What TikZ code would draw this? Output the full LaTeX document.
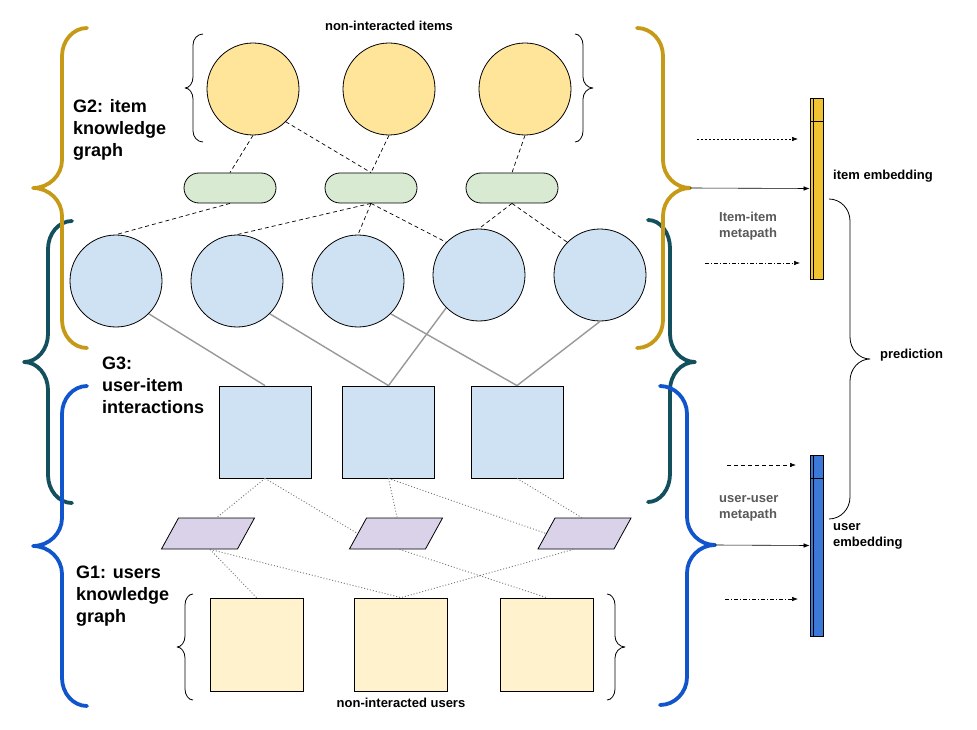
\documentclass[tikz,border=0pt]{standalone}
\usepackage{fontspec}
\setmainfont{Liberation Sans}
\usetikzlibrary{arrows.meta,calc}
\definecolor{circY}{HTML}{FFE599}
\definecolor{pillG}{HTML}{D9EAD3}
\definecolor{circB}{HTML}{CFE2F3}
\definecolor{paraP}{HTML}{D9D2E9}
\definecolor{sqY}{HTML}{FFF2CC}
\definecolor{goldB}{RGB}{198,154,22}
\definecolor{tealB}{HTML}{134F5C}
\definecolor{blueB}{HTML}{1155CC}
\definecolor{barY}{HTML}{F1C232}
\definecolor{barB}{HTML}{3C78D8}
\definecolor{grayT}{HTML}{595959}
\definecolor{grayL}{HTML}{999999}
\definecolor{grayD}{HTML}{777777}
% brace: #1 style, #2 x end, #3 x spine, #4 x tip, #5 y top, #6 y tip, #7 y bottom, #8 curl size
\newcommand{\mybrace}[8]{\draw[#1] (#2,#5) .. controls ({#2+0.55*(#3-#2)},#5) and (#3,{#5+0.45*#8}) .. (#3,{#5+#8}) -- (#3,{#6-#8}) .. controls (#3,{#6-0.45*#8}) and ({#4+0.55*(#3-#4)},#6) .. (#4,#6) .. controls ({#4+0.55*(#3-#4)},#6) and (#3,{#6+0.45*#8}) .. (#3,{#6+#8}) -- (#3,{#7-#8}) .. controls (#3,{#7-0.45*#8}) and ({#2+0.55*(#3-#2)},#7) .. (#2,#7);}
\tikzset{
  circle92/.style={circle, draw, line width=0.8pt, minimum size=92, inner sep=0},
  pill/.style={rectangle, rounded corners=15, draw, line width=0.8pt, fill=pillG, minimum width=92, minimum height=30, inner sep=0},
  sq/.style={rectangle, draw, line width=0.8pt, minimum size=92, inner sep=0},
  para/.style={rectangle, draw, line width=0.8pt, fill=paraP, minimum width=76, minimum height=31, inner sep=0, xslant=0.55},
  dsh/.style={dash pattern=on 4pt off 3pt, line width=0.7pt},
  gline/.style={grayL, line width=1.4pt},
  dline/.style={grayD, dash pattern=on 1pt off 2pt, line width=0.9pt},
  bigbrace/.style={line width=3.8pt, line join=round, line cap=round},
  thinbrace/.style={line width=0.8pt, line join=round},
  lab18/.style={font=\fontsize{18}{22}\selectfont\bfseries, align=left, inner sep=0},
  lab13/.style={font=\fontsize{13}{16}\selectfont\bfseries, align=left, inner sep=0},
  arr/.style={-{Latex[length=6pt,width=4.5pt]}, line width=0.6pt},
  bar/.style={rectangle, draw, line width=0.7pt, minimum width=13, minimum height=181, inner sep=0},
}
\begin{document}
\begin{tikzpicture}[x=1pt,y=-1pt]
\useasboundingbox (0,0) rectangle (977,730);
\fill[white] (0,0) rectangle (977,730);

% big braces
\mybrace{tealB,bigbrace}{72}{48}{24}{221}{362}{503}{28}
\mybrace{tealB,bigbrace}{648}{670}{695}{220}{362}{502}{28}
\mybrace{goldB,bigbrace}{87}{62}{33}{28}{188}{348}{28}
\mybrace{goldB,bigbrace}{637}{663}{690}{28}{188}{348}{28}
\mybrace{blueB,bigbrace}{87}{62}{33}{386}{546}{706}{28}
\mybrace{blueB,bigbrace}{660}{687}{715}{386}{545}{705}{28}
\coordinate (goldtip) at (690,188);
\coordinate (bluetip) at (715,545);

% thin braces
\mybrace{thinbrace}{203}{193}{185}{34}{88}{142}{11}
\mybrace{thinbrace}{575}{583}{593}{34}{88}{142}{11}
\mybrace{thinbrace}{193}{185}{177}{594}{647}{700}{11}
\mybrace{thinbrace}{607}{615}{625}{594}{647}{700}{11}
\mybrace{thinbrace}{829}{850}{870}{199}{359}{519}{22}

% items
\node[circle92, fill=circY] (Y1) at (253,89) {};
\node[circle92, fill=circY] (Y2) at (389,89) {};
\node[circle92, fill=circY] (Y3) at (525,89) {};
\node[pill] (G1) at (230,188) {};
\node[pill] (G2) at (371,188) {};
\node[pill] (G3) at (512,188) {};
\node[circle92, fill=circB] (B1) at (116,281) {};
\node[circle92, fill=circB] (B2) at (237,281) {};
\node[circle92, fill=circB] (B3) at (358,281) {};
\node[circle92, fill=circB] (B4) at (479,275) {};
\node[circle92, fill=circB] (B5) at (600,275) {};
\node[sq, fill=circB] (S1) at (265,432) {};
\node[sq, fill=circB] (S2) at (388.5,432) {};
\node[sq, fill=circB] (S3) at (517,432) {};
\node[para] (P1) at (208,533.5) {};
\node[para] (P2) at (396,533.5) {};
\node[para] (P3) at (584.5,533.5) {};
\node[sq, fill=sqY, minimum size=93] (U1) at (256.5,644.5) {};
\node[sq, fill=sqY, minimum size=93] (U2) at (401,644.5) {};
\node[sq, fill=sqY, minimum size=93] (U3) at (546.5,644.5) {};

% dashed lines (item KG)
\draw[dsh] (Y1.south) -- (G1.north);
\draw[dsh] (Y1.-45) -- (G2.north);
\draw[dsh] (Y2.south) -- (G2.north);
\draw[dsh] (Y3.south) -- (G3.north);
\draw[dsh] (G1.south) -- (B1.north);
\draw[dsh] (G2.south) -- (B2.north);
\draw[dsh] (G2.south) -- (B3.north);
\draw[dsh] (G2.south) -- (B4.135);
\draw[dsh] (G3.south) -- (B4.north);
\draw[dsh] (G3.south) -- (B5.135);

% gray interactions
\draw[gline] (B1.-45) -- (S1.north);
\draw[gline] (B2.-45) -- (S2.north);
\draw[gline] (B3.-45) -- (S3.north);
\draw[gline] (B4.-135) -- (S2.north);
\draw[gline] (B5.south) -- (S3.north);

% dotted (user KG)
\draw[dline] (S1.south) -- (P1.north);
\draw[dline] (S1.south) -- (P2.west);
\draw[dline] (S2.south) -- ($(P2.north west)!0.4!(P2.north east)$);
\draw[dline] (S2.south) -- (P3.west);
\draw[dline] (S3.south) -- ($(P3.north west)!0.35!(P3.north east)$);
\draw[dline] ($(P1.south west)!0.64!(P1.south east)$) -- (U1.north);
\draw[dline] ($(P1.south west)!0.64!(P1.south east)$) -- (U2.north);
\draw[dline] ($(P2.south west)!0.66!(P2.south east)$) -- (U3.north);
\draw[dline] ($(P3.south west)!0.47!(P3.south east)$) -- (U2.north);

% embedding bars
\node[bar, fill=barY] (ibar) at (816.5,188.5) {};
\draw[line width=0.7pt] (810,121) -- (823,121);
\draw[line width=0.7pt] (813,98) -- (813,279);
\node[bar, fill=barB] (ubar) at (816.5,545.5) {};
\draw[line width=0.7pt] (810,478) -- (823,478);
\draw[line width=0.7pt] (813,455) -- (813,636);

% arrows
\coordinate (a1s) at (697,139); \coordinate (a1e) at (798,139);
\coordinate (a2s) at (705,263); \coordinate (a2e) at (800,263);
\coordinate (a3s) at (727,465); \coordinate (a3e) at (796,465);
\coordinate (a4s) at (725,599); \coordinate (a4e) at (798,599);
\draw[arr, dash pattern=on 2pt off 2pt] (a1s) -- (a1e);
\draw[arr] (goldtip) -- (ibar.west);
\draw[arr, dash pattern=on 4pt off 2pt on 1pt off 2pt] (a2s) -- (a2e);
\draw[arr, dash pattern=on 4pt off 3pt] (a3s) -- (a3e);
\draw[arr] (bluetip) -- (ubar.west);
\draw[arr, dash pattern=on 4pt off 2pt on 1pt off 2pt] (a4s) -- (a4e);

% texts
\node[lab18, anchor=west] (tG2) at (73,130) {G2: item\\knowledge\\graph};
\node[lab18, anchor=west] (tG3) at (102,385) {G3:\\user-item\\interactions};
\node[lab18, anchor=west] (tG1) at (76,596) {G1: users\\knowledge\\graph};
\node[lab13] (tni) at (389,26) {non-interacted items};
\node[lab13] (tnu) at (401,703) {non-interacted users};
\node[lab13, anchor=west] (tie) at (833,176) {item embedding};
\node[lab13, anchor=west, text=grayT] (tiim) at (719,226) {Item-item\\metapath};
\node[lab13, anchor=west] (tpr) at (880,355) {prediction};
\node[lab13, anchor=west, text=grayT] (tuum) at (719,508) {user-user\\metapath};
\node[lab13, anchor=west] (tue) at (833,536) {user\\embedding};
\end{tikzpicture}
\end{document}
